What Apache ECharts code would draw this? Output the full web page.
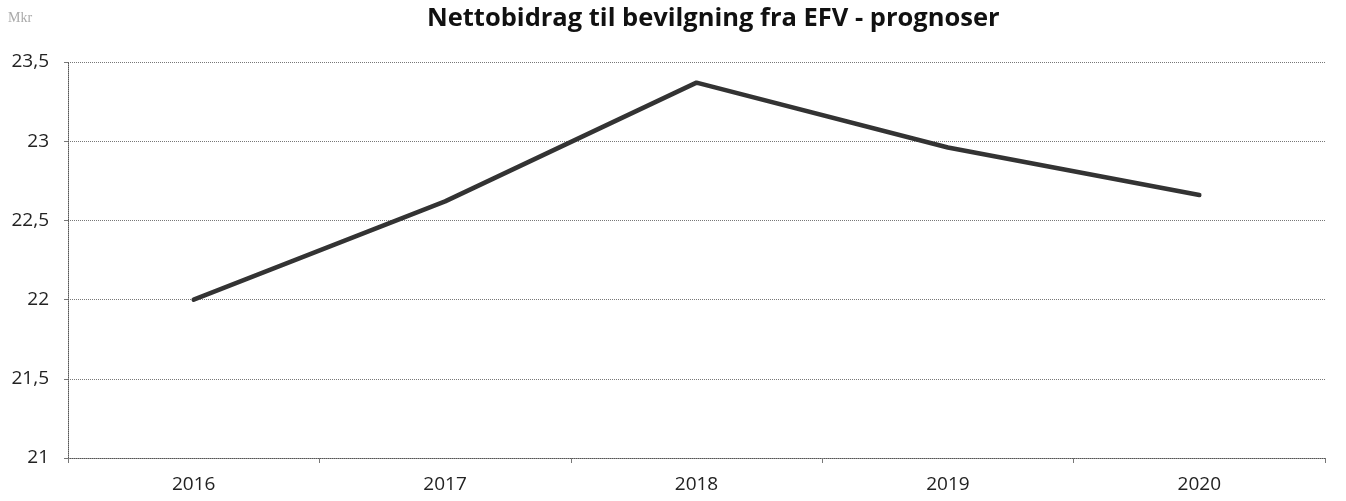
<!DOCTYPE html>
<html><head><meta charset="utf-8">
<script src="https://cdn.jsdelivr.net/npm/echarts@6/dist/echarts.min.js"></script>
<style>html,body{margin:0;padding:0;background:#fff}#c{width:1346px;height:501px}</style>
</head><body><div id="c"></div>
<script>
const years = ['2016','2017','2018','2019','2020'];
const values = [22.0, 22.62, 23.37, 22.96, 22.66];
const yMin = 21, yMax = 23.5, yStep = 0.5;
const titleText = 'Nettobidrag til bevilgning fra EFV - prognoser';
const unitText = 'Mkr';

const chart = echarts.init(document.getElementById('c'));
chart.setOption({
  animation: false,
  backgroundColor: '#fff',
  title: {
    text: titleText, left: 422, top: 1,
    textStyle: {fontFamily: 'Open Sans', fontWeight: 'bold', fontSize: 25.5, color: '#111'}
  },
  graphic: [{type: 'text', left: 8, top: 11, style: {text: unitText, font: '14px "Liberation Serif"', fill: '#aaa'}}],
  grid: {left: 68, right: 21, top: 62, bottom: 43},
  xAxis: {
    type: 'category', data: years, boundaryGap: true,
    axisLine: {lineStyle: {color: '#555', width: 1, type: 'dotted'}},
    axisTick: {show: true, length: 5, inside: false, lineStyle: {color: '#777'}},
    axisLabel: {fontFamily: 'Open Sans', fontSize: 19, color: '#222', margin: 17},
    splitLine: {show: false}
  },
  yAxis: {
    type: 'value', min: yMin, max: yMax, interval: yStep,
    axisLine: {show: true, lineStyle: {color: '#555', width: 1, type: 'dotted'}},
    axisTick: {show: true, length: 4, lineStyle: {color: '#777'}},
    axisLabel: {fontFamily: 'Open Sans', fontSize: 19, color: '#222', margin: 19,
      formatter: v => String(v).replace('.', ',')},
    splitLine: {show: true, lineStyle: {color: '#777', width: 1, type: 'dotted'}}
  },
  series: [{
    type: 'line', data: values, symbol: 'none',
    lineStyle: {color: '#333', width: 4.5, cap: 'round'}
  }]
});
</script></body></html>
